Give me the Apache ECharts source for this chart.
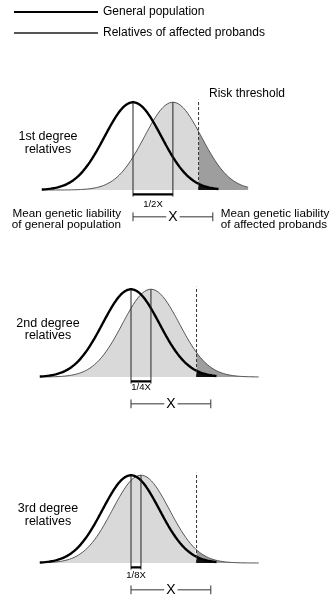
<!DOCTYPE html>
<html><head><meta charset="utf-8">
<script src="https://cdn.jsdelivr.net/npm/echarts@6/dist/echarts.min.js"></script>
<style>html,body{margin:0;padding:0;background:#fff}#c{width:336px;height:600px}</style>
</head><body><div id="c"></div>
<script>
// ---- data ----
const legendNames = ['General population', 'Relatives of affected probands'];
const panelLabels = ['1st degree\nrelatives', '2nd degree\nrelatives', '3rd degree\nrelatives'];
const shiftFractions = [1/2, 1/4, 1/8];          // relatives' mean shift, as a fraction of X
const shiftLabels = ['1/2X', '1/4X', '1/8X'];
const populationMean = 0;                        // liability, in SD units
const liabilitySD = 1;
const probandDistanceX = 2.8;                    // X = proband mean - population mean (SD units)
const riskThreshold = 2.3;                       // threshold (SD units)
const bracketLabel = 'X';
const meanLabels = ['Mean genetic liability\nof general population', 'Mean genetic liability\nof affected probands'];
const thresholdLabel = 'Risk threshold';

// ---- layout / style ----
const FONT = '"Liberation Sans", Arial, Helvetica, sans-serif';
const SD_PX = 28.5, Y_PX = 220;
const X_MIN = -3.2, X_MAX = 4.5, Y_MIN = -0.15, Y_MAX = 0.42;
const BLACK_END = 3.0;
const panelMeanPx = [133, 131, 131];
const panelBaselinePx = [190, 377, 563];
const grayEnd = [4.05, 4.5, 4.5];
const panelLabelY = [143, 329.5, 515];
const shiftLabelY = [-0.064, -0.047, -0.055];
const BAR_Y = -0.02, MEANLINE_BOTTOM = -0.03, BRACKET_Y = -0.122, TICK_H = 0.02, DASH_TOP = 0.41;

function pdf(x, mu) {
  const z = (x - mu) / liabilitySD;
  return Math.exp(-0.5 * z * z) / (liabilitySD * Math.sqrt(2 * Math.PI));
}
function curve(mu, a, b) {
  const pts = [];
  const step = 0.04;
  for (let x = a; x < b; x += step) pts.push([x, pdf(x, mu)]);
  pts.push([b, pdf(b, mu)]);
  return pts;
}

const grids = [], xAxes = [], yAxes = [], series = [];
const labelPoint = { type: 'scatter', silent: true, animation: false, symbolSize: 0, itemStyle: { opacity: 1 } };
panelLabels.forEach((lab, i) => {
  grids.push({
    left: panelMeanPx[i] + X_MIN * SD_PX,
    width: (X_MAX - X_MIN) * SD_PX,
    top: panelBaselinePx[i] - Y_MAX * Y_PX,
    height: (Y_MAX - Y_MIN) * Y_PX,
    containLabel: false,
    outerBoundsMode: 'none'
  });
  xAxes.push({ gridIndex: i, type: 'value', min: X_MIN, max: X_MAX, show: false });
  yAxes.push({ gridIndex: i, type: 'value', min: Y_MIN, max: Y_MAX, show: false });

  const relMean = populationMean + shiftFractions[i] * probandDistanceX;
  const ax = { xAxisIndex: i, yAxisIndex: i, type: 'line', symbol: 'none', silent: true, animation: false };
  const lp = { ...labelPoint, xAxisIndex: i, yAxisIndex: i };

  // fills
  series.push({ ...ax, name: 'fillLight' + i, data: curve(relMean, X_MIN, riskThreshold),
    lineStyle: { width: 0 }, areaStyle: { color: '#d9d9d9', opacity: 1 }, z: 1 });
  series.push({ ...ax, name: 'fillDark' + i, data: curve(relMean, riskThreshold, grayEnd[i]),
    lineStyle: { width: 0 }, areaStyle: { color: '#9e9e9e', opacity: 1 }, z: 2 });
  series.push({ ...ax, name: 'fillBlack' + i, data: curve(populationMean, riskThreshold, BLACK_END),
    lineStyle: { width: 0 }, areaStyle: { color: '#111', opacity: 1 }, z: 3 });

  // curves
  series.push({ ...ax, name: legendNames[1], data: curve(relMean, X_MIN, grayEnd[i]),
    lineStyle: { width: 1, color: '#555' }, itemStyle: { color: '#555' }, z: 5 });
  series.push({ ...ax, name: legendNames[0], data: curve(populationMean, X_MIN, BLACK_END),
    lineStyle: { width: 2.4, color: '#000' }, itemStyle: { color: '#000' }, z: 6 });

  // threshold
  series.push({ ...ax, name: 'thr' + i, data: [[riskThreshold, 0], [riskThreshold, DASH_TOP]],
    lineStyle: { width: 1, color: '#333', type: [3, 2] }, z: 7 });

  // mean lines
  [populationMean, relMean].forEach((m, k) => {
    series.push({ ...ax, name: 'mean' + i + k, data: [[m, pdf(m, m)], [m, MEANLINE_BOTTOM]],
      lineStyle: { width: 1, color: '#222' }, z: 7 });
  });
  // shift bar
  series.push({ ...ax, name: 'shift' + i, data: [[populationMean, BAR_Y], [relMean, BAR_Y]],
    lineStyle: { width: 2.2, color: '#000' }, z: 8 });
  series.push({ ...lp, data: [[(populationMean + relMean) / 2, shiftLabelY[i]]],
    label: { show: true, position: 'inside', formatter: shiftLabels[i], fontFamily: FONT, fontSize: 9.5, color: '#000' } });

  // X bracket
  const xEnd = populationMean + probandDistanceX;
  series.push({ ...ax, name: 'xbr' + i, data: [[populationMean, BRACKET_Y], [xEnd, BRACKET_Y]],
    lineStyle: { width: 1, color: '#333' }, z: 8 });
  [populationMean, xEnd].forEach((m, k) => {
    series.push({ ...ax, name: 'xtick' + i + k, data: [[m, BRACKET_Y + TICK_H], [m, BRACKET_Y - TICK_H]],
      lineStyle: { width: 1, color: '#333' }, z: 8 });
  });
  series.push({ ...lp, z: 9, data: [[(populationMean + xEnd) / 2, BRACKET_Y]],
    label: { show: true, position: 'inside', formatter: bracketLabel, fontFamily: FONT, fontSize: 14, color: '#000',
      backgroundColor: '#fff', padding: [0, 2] } });

  if (i === 0) {
    series.push({ ...lp, data: [[populationMean, BRACKET_Y]],
      label: { show: true, position: 'left', distance: 12, offset: [0, 2], formatter: meanLabels[0], fontFamily: FONT,
        fontSize: 11.7, lineHeight: 11, color: '#000' } });
    series.push({ ...lp, data: [[xEnd, BRACKET_Y]],
      label: { show: true, position: 'right', distance: 8, offset: [0, 2], formatter: meanLabels[1], fontFamily: FONT,
        fontSize: 11.7, lineHeight: 11, color: '#000' } });
  }
});

const graphics = panelLabels.map((lab, i) => ({
  type: 'text', x: 48, y: panelLabelY[i],
  style: { text: lab, font: '12.5px ' + FONT, fill: '#000', textAlign: 'center', textVerticalAlign: 'middle', lineHeight: 12.5 }
}));
graphics.push({ type: 'text', x: 209, y: 94,
  style: { text: thresholdLabel, font: '12px ' + FONT, fill: '#000', textAlign: 'left', textVerticalAlign: 'middle' } });

const chart = echarts.init(document.getElementById('c'), null, { renderer: 'canvas' });
chart.setOption({
  animation: false,
  backgroundColor: '#fff',
  legend: {
    data: legendNames, orient: 'vertical', left: 13, top: 6, padding: 0, itemWidth: 84, itemHeight: 14, itemGap: 9,
    selectedMode: false, itemStyle: { opacity: 0 },
    textStyle: { fontFamily: FONT, fontSize: 12, color: '#000' }
  },
  grid: grids, xAxis: xAxes, yAxis: yAxes, series: series, graphic: graphics
});
</script></body></html>
